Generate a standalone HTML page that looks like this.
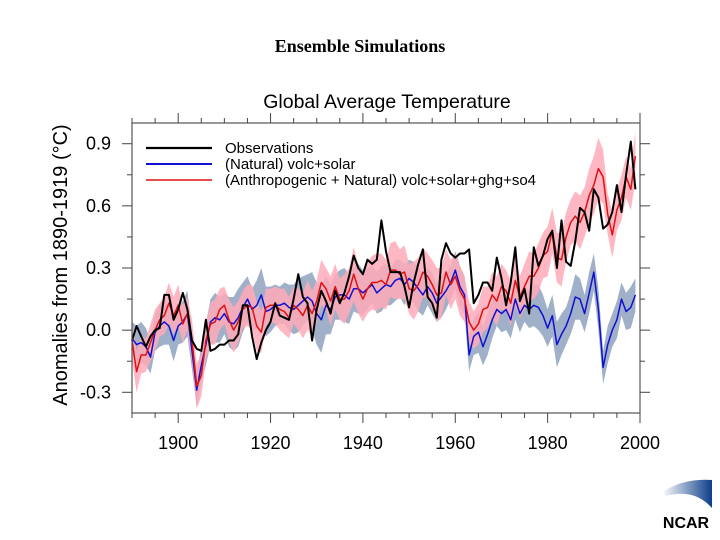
<!DOCTYPE html>
<html><head><meta charset="utf-8"><style>
html,body{margin:0;padding:0;background:#fff;}
#wrap{position:relative;width:720px;height:540px;overflow:hidden;font-family:"Liberation Sans",sans-serif;}
</style></head><body>
<div id="wrap">
<div style="position:absolute;left:0;width:720px;top:36px;text-align:center;font-family:'Liberation Serif',serif;font-weight:bold;font-size:18px;">Ensemble Simulations</div>
<svg id="chart" width="720" height="540" style="position:absolute;left:0;top:0"></svg>
</div>
<script>
const years=[];for(let y=1890;y<=1999;y++)years.push(y);
const observations=[-0.05,0.02,-0.03,-0.08,-0.03,0.0,0.01,0.17,0.17,0.05,
0.10,0.18,0.10,-0.05,-0.09,-0.10,0.05,-0.10,-0.09,-0.07,
-0.07,-0.05,-0.05,-0.02,0.12,0.12,-0.03,-0.14,-0.06,0.0,
0.04,0.13,0.07,0.06,0.05,0.15,0.27,0.16,0.13,-0.05,
0.10,0.19,0.14,0.08,0.19,0.13,0.18,0.26,0.36,0.30,
0.27,0.34,0.32,0.34,0.53,0.38,0.28,0.28,0.28,0.21,
0.11,0.23,0.32,0.39,0.16,0.13,0.06,0.34,0.42,0.37,
0.35,0.37,0.37,0.39,0.13,0.17,0.23,0.23,0.19,0.35,
0.25,0.12,0.23,0.40,0.14,0.20,0.08,0.40,0.31,0.36,
0.44,0.48,0.30,0.53,0.33,0.31,0.43,0.59,0.57,0.48,
0.68,0.64,0.49,0.51,0.57,0.70,0.57,0.75,0.91,0.68];
const allForcing=[-0.05,-0.20,-0.12,-0.12,-0.06,0.00,0.05,0.07,0.13,0.07,
0.12,0.03,0.08,-0.05,-0.27,-0.22,-0.05,0.03,0.04,0.10,
0.12,0.05,0.00,0.04,0.10,0.12,0.11,0.02,-0.01,0.11,
0.12,0.12,0.10,0.09,0.06,0.12,0.10,0.07,0.12,0.08,
0.14,0.23,0.20,0.14,0.21,0.15,0.15,0.19,0.27,0.20,
0.15,0.20,0.23,0.23,0.24,0.22,0.29,0.29,0.27,0.28,
0.20,0.19,0.22,0.28,0.26,0.22,0.17,0.18,0.28,0.22,
0.26,0.19,0.15,0.04,0.00,0.03,0.10,0.11,0.17,0.14,
0.21,0.19,0.13,0.24,0.16,0.21,0.26,0.26,0.30,0.36,
0.38,0.48,0.35,0.34,0.45,0.52,0.55,0.52,0.57,0.65,
0.70,0.78,0.74,0.56,0.46,0.58,0.64,0.74,0.68,0.84];
const allSpread=[0.09,0.10,0.09,0.08,0.09,0.10,0.08,0.09,0.10,0.09,
0.10,0.09,0.08,0.10,0.11,0.10,0.09,0.10,0.11,0.10,
0.09,0.10,0.11,0.10,0.09,0.10,0.11,0.12,0.10,0.09,
0.08,0.09,0.10,0.11,0.10,0.09,0.10,0.11,0.12,0.11,
0.10,0.11,0.10,0.12,0.11,0.10,0.12,0.11,0.13,0.12,
0.11,0.12,0.13,0.14,0.13,0.12,0.13,0.14,0.12,0.13,
0.12,0.14,0.13,0.12,0.11,0.12,0.13,0.12,0.11,0.12,
0.11,0.12,0.11,0.10,0.09,0.10,0.11,0.10,0.11,0.12,
0.11,0.10,0.11,0.12,0.10,0.11,0.12,0.11,0.12,0.11,
0.12,0.11,0.12,0.13,0.12,0.11,0.12,0.13,0.12,0.13,
0.14,0.15,0.13,0.10,0.11,0.10,0.11,0.10,0.10,0.12];
const natural=[-0.04,-0.07,-0.06,-0.08,-0.13,-0.01,0.02,0.04,0.02,-0.05,
0.02,0.04,0.08,-0.10,-0.29,-0.17,-0.07,0.04,0.06,0.05,
0.08,0.04,0.03,0.06,0.11,0.15,0.10,0.12,0.17,0.09,
0.10,0.12,0.12,0.13,0.11,0.10,0.12,0.14,0.16,0.14,
0.08,0.05,0.12,0.10,0.16,0.17,0.17,0.15,0.20,0.20,
0.18,0.20,0.22,0.18,0.20,0.22,0.21,0.24,0.25,0.22,
0.25,0.23,0.20,0.17,0.21,0.18,0.13,0.16,0.19,0.23,
0.29,0.21,0.17,-0.12,-0.03,-0.01,-0.08,-0.02,0.05,0.10,
0.08,0.10,0.05,0.15,0.08,0.12,0.10,0.12,0.11,0.07,
0.01,0.07,-0.07,-0.02,0.02,0.08,0.16,0.15,0.08,0.18,
0.28,0.10,-0.18,-0.07,0.00,0.05,0.15,0.09,0.11,0.17];
const naturalSpread=[0.08,0.09,0.10,0.09,0.08,0.09,0.10,0.11,0.09,0.10,
0.09,0.10,0.11,0.09,0.08,0.09,0.10,0.11,0.12,0.11,
0.10,0.12,0.13,0.14,0.12,0.11,0.10,0.12,0.13,0.12,
0.11,0.10,0.09,0.10,0.11,0.12,0.13,0.12,0.11,0.14,
0.15,0.16,0.14,0.12,0.11,0.12,0.13,0.12,0.11,0.12,
0.11,0.10,0.09,0.10,0.11,0.10,0.09,0.10,0.09,0.10,
0.09,0.10,0.11,0.10,0.09,0.10,0.09,0.10,0.09,0.08,
0.09,0.10,0.09,0.08,0.09,0.10,0.09,0.10,0.09,0.08,
0.09,0.10,0.09,0.10,0.09,0.08,0.09,0.10,0.11,0.10,
0.09,0.10,0.11,0.10,0.09,0.10,0.11,0.10,0.09,0.10,
0.09,0.10,0.08,0.09,0.08,0.09,0.08,0.09,0.10,0.08];
const xTicks=[1900,1920,1940,1960,1980,2000];
const yTicks=[-0.3,0.0,0.3,0.6,0.9];
const legendLabels=["Observations","(Natural) volc+solar","(Anthropogenic + Natural) volc+solar+ghg+so4"];

const L=132,R=640,T=123,B=413,X0=1890,X1=2000,Y0=-0.4,Y1=1.0;
const sx=v=>L+(v-X0)/(X1-X0)*(R-L);
const sy=v=>B-(v-Y0)/(Y1-Y0)*(B-T);
const svg=document.getElementById('chart');
const NS='http://www.w3.org/2000/svg';
function mk(tag,attrs){const e=document.createElementNS(NS,tag);for(const k in attrs)e.setAttribute(k,attrs[k]);svg.appendChild(e);return e;}
function band(mid,spr,fill,name){
  let d='';years.forEach((y,i)=>{d+=(i?'L':'M')+sx(y).toFixed(1)+','+sy(mid[i]+spr[i]).toFixed(1);});
  for(let i=years.length-1;i>=0;i--)d+='L'+sx(years[i]).toFixed(1)+','+sy(mid[i]-spr[i]).toFixed(1);
  const p=mk('path',{d:d+'Z',fill:fill,stroke:'none'});
  
  
}
function line(vals,color,w,name){
  const pts=years.map((y,i)=>sx(y).toFixed(1)+','+sy(vals[i]).toFixed(1)).join(' ');
  const p=mk('polyline',{points:pts,fill:'none',stroke:color,'stroke-width':w,'stroke-linejoin':'round'});
  
  
}
band(natural,naturalSpread,'#9fb0c8','natural-spread-band');
band(allForcing,allSpread,'rgba(255,170,185,0.85)','anthro-spread-band');
line(natural,'#1010d0',1.5,'natural-line');
line(allForcing,'#e01010',1.5,'anthro-natural-line');
line(observations,'#000',2,'observations-line');
const fr=mk('rect',{x:L,y:T,width:R-L,height:B-T,fill:'none',stroke:'#555','stroke-width':1.2});


for(let y=1890;y<=2000;y+=5){
  const maj=y%20===0, len=maj?10:5;
  mk('line',{x1:sx(y),x2:sx(y),y1:B,y2:B+len,stroke:'#444','stroke-width':1});
  mk('line',{x1:sx(y),x2:sx(y),y1:T,y2:T-len,stroke:'#444','stroke-width':1});
}
xTicks.forEach(v=>{const t=mk('text',{x:sx(v),y:449,'text-anchor':'middle','font-size':18,'font-family':'Liberation Sans, sans-serif'});t.textContent=v;

});
for(let k=-6;k<=19;k++){const v=k*0.15;if(v<Y0||v>Y1)continue;const maj=Math.abs(Math.round(v/0.3)*0.3-v)<1e-6, len=maj?10:5;
  mk('line',{x1:L,x2:L-len,y1:sy(v),y2:sy(v),stroke:'#444','stroke-width':1});
  mk('line',{x1:R,x2:R+len,y1:sy(v),y2:sy(v),stroke:'#444','stroke-width':1});}
yTicks.forEach(v=>{const t=mk('text',{x:111,y:sy(v)+6,'text-anchor':'end','font-size':18,'font-family':'Liberation Sans, sans-serif'});t.textContent=v.toFixed(1);

});
const ct=mk('text',{x:387,y:108,'text-anchor':'middle','font-size':19.5,'font-family':'Liberation Sans, sans-serif'});ct.textContent='Global Average Temperature';


const yt=mk('text',{x:0,y:0,'text-anchor':'middle','font-size':20,'font-family':'Liberation Sans, sans-serif',transform:'translate(67,265) rotate(-90)'});yt.textContent='Anomalies from 1890-1919 (\u00B0C)';


const lc=['#000','#1010d0','#e01010'],lw=[2.2,2,1.5];
legendLabels.forEach((s,i)=>{const yy=148+i*16;
  const l=mk('line',{x1:146,x2:212,y1:yy,y2:yy,stroke:lc[i],'stroke-width':lw[i]});
  
  
  const t=mk('text',{x:225,y:yy+5,'font-size':15,'font-family':'Liberation Sans, sans-serif'});t.textContent=s;
  
  });
</script>
<svg width="62" height="58" style="position:absolute;left:654px;top:476px">
<defs><linearGradient id="g" x1="0" x2="1"><stop offset="0" stop-color="#fff"/><stop offset="1" stop-color="#0d3d8a"/></linearGradient></defs>
<path d="M8,16 Q30,2 58,4 L58,32 Q40,12 12,20 Z" fill="url(#g)"/>
<text x="32" y="52" text-anchor="middle" font-size="16" font-weight="bold" font-family="Liberation Sans, sans-serif">NCAR</text>
</svg>
</body></html>
